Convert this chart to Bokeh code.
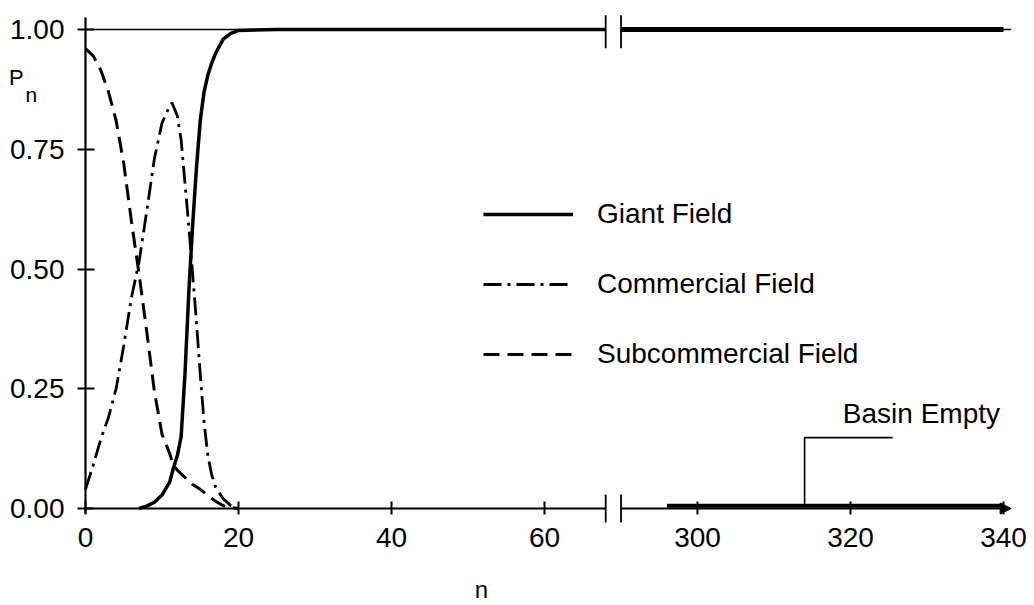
import numpy as np
from bokeh.plotting import figure
from bokeh.models import (Range1d, FixedTicker, PrintfTickFormatter, Legend, LegendItem,
                          Label, Arrow, NormalHead)
from bokeh.embed import file_html
from bokeh.resources import INLINE

# ---------------- data ----------------
giant_n = [7, 8, 9, 10, 11, 11.5, 12, 12.5, 13, 13.5, 14, 14.5, 15, 15.5, 16, 16.5, 17, 18, 19, 20, 25, 30, 40, 50, 60, 68]
giant_p = [0.0, 0.005, 0.013, 0.028, 0.055, 0.085, 0.11, 0.15, 0.28, 0.45, 0.59, 0.71, 0.81, 0.87, 0.905, 0.93, 0.95, 0.98, 0.992, 0.998, 1.0, 1.0, 1.0, 1.0, 1.0, 1.0]
giant_tail_n = [290, 300, 320, 340]
giant_tail_p = [1.0, 1.0, 1.0, 1.0]

comm_n = [0, 1, 2, 3, 4, 5, 6, 7, 8, 9, 10, 11, 11.3, 12, 12.5, 13, 13.5, 14, 14.5, 15, 15.5, 16, 16.5, 17, 18, 19, 20]
comm_p = [0.04, 0.09, 0.145, 0.19, 0.25, 0.34, 0.44, 0.515, 0.62, 0.73, 0.805, 0.84, 0.847, 0.82, 0.77, 0.68, 0.59, 0.49, 0.39, 0.28, 0.18, 0.11, 0.07, 0.045, 0.02, 0.006, 0.0]

sub_n = [0, 1, 2, 3, 4, 5, 6, 7, 8, 9, 10, 11, 11.5, 12, 13, 14, 15, 16, 17, 18, 19, 20]
sub_p = [0.96, 0.945, 0.915, 0.87, 0.81, 0.72, 0.60, 0.49, 0.37, 0.245, 0.155, 0.115, 0.09, 0.08, 0.065, 0.05, 0.04, 0.027, 0.015, 0.006, 0.002, 0.0]

basin_n = [296, 340]
basin_p = [0.006, 0.006]

bracket_n = [314, 314, 325.5]
bracket_p = [0.006, 0.148, 0.148]
basin_label_n, basin_label_p = 319, 0.198

x_ticks = [0, 20, 40, 60, 300, 320, 340]
y_ticks = [0.0, 0.25, 0.50, 0.75, 1.00]

break_left_n, break_right_n = 68, 290
axis_end_n = 341

FONT = "Liberation Sans"
FS = "28px"


def to_disp(n):
    a = np.asarray(n, dtype=float)
    return np.where(a <= 70, a, a - 220)


W, H = 1034, 605
p = figure(width=W, height=H, output_backend="svg", toolbar_location=None,
           x_range=Range1d(-85 / 7.65, (W - 85) / 7.65),
           y_range=Range1d((508 - H) / 479, 508 / 479),
           min_border_left=0, min_border_right=0, min_border_top=0, min_border_bottom=0)
p.outline_line_color = None
p.xgrid.visible = False
p.ygrid.visible = False
p.background_fill_color = "white"
p.border_fill_color = "white"

# axes (drawn through the data origin)
p.xaxis.fixed_location = 0
p.xaxis.ticker = FixedTicker(ticks=[float(v) for v in to_disp(x_ticks)])
p.xaxis.major_label_overrides = {int(d): str(n) for d, n in zip(to_disp(x_ticks), x_ticks)}
p.xaxis.axis_line_color = None
p.xaxis.minor_tick_line_color = None
p.xaxis.major_tick_in = 7
p.xaxis.major_tick_out = 6
p.xaxis.major_tick_line_width = 2
p.xaxis.major_tick_line_color = "black"
p.xaxis.major_label_standoff = 13

p.yaxis.fixed_location = 0
p.yaxis.ticker = FixedTicker(ticks=y_ticks)
p.yaxis.formatter = PrintfTickFormatter(format="%.2f")
p.yaxis.axis_line_color = None
p.yaxis.minor_tick_line_color = None
p.yaxis.major_tick_in = 9
p.yaxis.major_tick_out = 8
p.yaxis.major_tick_line_width = 2
p.yaxis.major_tick_line_color = "black"
p.yaxis.major_label_standoff = 13

for ax in (p.xaxis, p.yaxis):
    ax.major_label_text_font = FONT
    ax.major_label_text_font_size = FS
    ax.major_label_text_color = "black"

bl, br = to_disp([break_left_n, break_right_n])
x_end = float(to_disp(axis_end_n))

# axis lines
p.line([0, 0], [-0.01, 1.025], line_color="black", line_width=2.2)
p.line([0, bl], [0, 0], line_color="black", line_width=2)
p.add_layout(Arrow(end=NormalHead(size=11, fill_color="black", line_color="black"),
                   x_start=br, y_start=0, x_end=x_end, y_end=0,
                   line_color="black", line_width=2))
# top reference line at 1.0
p.line([0, bl], [1, 1], line_color="black", line_width=1.5)
p.line([br, x_end], [1, 1], line_color="black", line_width=1.5)
# break marks
for xb in (bl, br):
    p.line([xb, xb], [-0.029, 0.029], line_color="black", line_width=1.8)
    p.line([xb, xb], [0.961, 1.03], line_color="black", line_width=1.8)

# curves
r_giant = p.line(to_disp(giant_n), giant_p, line_color="black", line_width=3.5)
p.line(to_disp(giant_tail_n), giant_tail_p, line_color="black", line_width=5)
r_comm = p.line(to_disp(comm_n), comm_p, line_color="black", line_width=2.8, line_dash="18 6 3 6")
r_sub = p.line(to_disp(sub_n), sub_p, line_color="black", line_width=3, line_dash="16 8")

# basin empty
p.line(to_disp(basin_n), basin_p, line_color="black", line_width=4)
p.line(to_disp(bracket_n), bracket_p, line_color="black", line_width=1.6)
p.add_layout(Label(x=float(to_disp(basin_label_n)), y=basin_label_p, text="Basin Empty",
                   text_font=FONT, text_font_size=FS, text_color="black",
                   text_baseline="middle", text_align="left"))

# axis labels
p.add_layout(Label(x=-10.0, y=0.899, text="P", text_font=FONT, text_font_size="22px",
                   text_color="black", text_baseline="middle", text_align="left"))
p.add_layout(Label(x=-7.84, y=0.864, text="n", text_font=FONT, text_font_size="21px",
                   text_color="black", text_baseline="middle", text_align="left"))
p.add_layout(Label(x=51.76, y=-0.1700, text="n", text_font=FONT, text_font_size="24px",
                   text_color="black", text_baseline="middle", text_align="center"))

legend = Legend(items=[LegendItem(label="Giant Field", renderers=[r_giant]),
                       LegendItem(label="Commercial Field", renderers=[r_comm]),
                       LegendItem(label="Subcommercial Field", renderers=[r_sub])],
                location=(483, 234))
legend.glyph_width = 90
legend.glyph_height = 34
legend.label_height = 34
legend.spacing = 36
legend.padding = 0
legend.margin = 0
legend.label_standoff = 24
legend.border_line_color = None
legend.background_fill_alpha = 0
legend.label_text_font = FONT
legend.label_text_font_size = FS
legend.label_text_color = "black"
p.add_layout(legend)

open("out.html", "w").write(file_html(p, INLINE))
